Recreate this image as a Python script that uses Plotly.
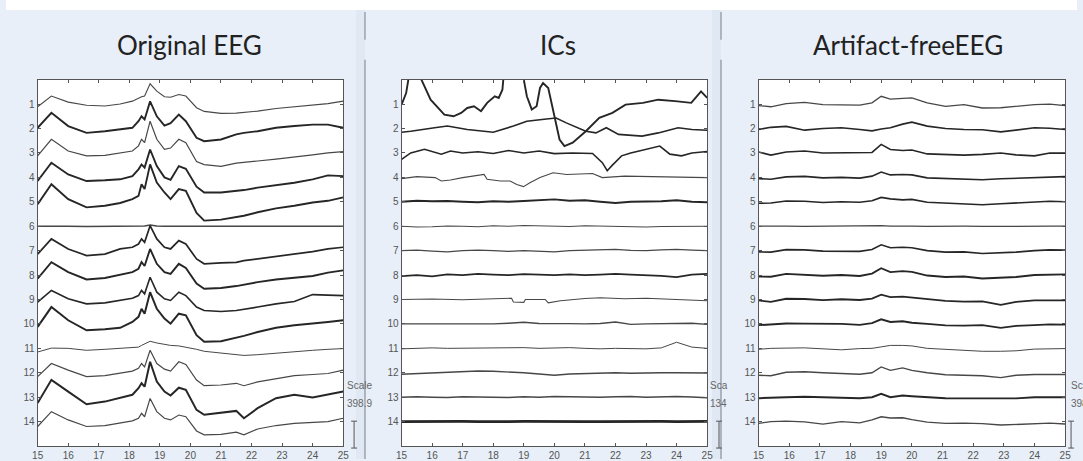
import plotly.graph_objects as go

W, H = 1083, 461

# ---------------------------------------------------------------- data
PANEL_TITLES = ["Original EEG", "ICs", "Artifact-freeEEG"]
CHANNELS = list(range(1, 15))
X_TICKS = list(range(15, 26))
SCALE_TEXT = [("Scale", "398.9"), ("Sca", "134"), ("Scale", "398.9")]

# Original EEG (deflection in channel-spacing units, up = positive)
T_EEG = [15.0, 15.45, 16.0, 16.6, 17.2, 17.7, 18.1, 18.3, 18.4, 18.5, 18.68, 18.9, 19.15, 19.35,
         19.62, 19.85, 20.2, 20.45, 21.0, 21.5, 21.75, 22.2, 22.8, 23.4, 24.0, 24.5, 25.0]
eeg_1 = [-0.11, 0.33, 0.08, -0.05, -0.08, 0.0, 0.12, 0.26, 0.30, 0.33, 0.83, 0.53, 0.30, 0.28,
         0.39, 0.33, -0.15, -0.30, -0.38, -0.37, -0.35, -0.29, -0.18, -0.10, -0.03, 0.02, 0.12]
eeg_2 = [0.03, 0.64, 0.10, -0.18, -0.11, -0.04, 0.03, 0.30, 0.50, 0.37, 1.11, 0.50, 0.12, 0.22,
         0.57, 0.30, -0.38, -0.52, -0.45, -0.24, -0.18, -0.11, 0.03, 0.10, 0.16, 0.16, 0.03]
eeg_3 = [-0.12, 0.56, 0.08, -0.12, -0.10, 0.0, 0.08, 0.29, 0.56, 0.42, 1.30, 0.56, 0.15, 0.20,
         0.56, 0.42, -0.35, -0.48, -0.55, -0.42, -0.38, -0.33, -0.25, -0.15, -0.08, 0.0, 0.05]
eeg_4 = [-0.15, 0.60, 0.12, -0.15, -0.12, -0.08, 0.05, 0.33, 0.53, 0.40, 1.14, 0.46, 0.0, -0.10,
         0.46, 0.35, -0.38, -0.62, -0.62, -0.56, -0.52, -0.42, -0.33, -0.22, -0.08, 0.08, 0.05]
eeg_5 = [-0.10, 0.72, 0.11, -0.23, -0.16, -0.05, 0.11, 0.24, 0.72, 0.52, 1.53, 0.79, 0.38, 0.11,
         0.52, 0.45, -0.46, -0.77, -0.73, -0.64, -0.57, -0.43, -0.27, -0.16, -0.03, 0.04, 0.18]
eeg_6 = [0.0, 0.01, 0.0, -0.01, 0.0, 0.0, 0.01, 0.0, 0.0, 0.01, 0.05, 0.01, 0.0, 0.0,
         0.01, 0.0, -0.01, 0.0, 0.0, 0.0, -0.01, 0.0, 0.0, 0.01, 0.0, 0.0, 0.0]
eeg_7 = [-0.14, 0.48, 0.07, -0.20, -0.14, 0.07, 0.14, 0.27, 0.48, 0.34, 1.02, 0.48, 0.14, 0.07,
         0.41, 0.27, -0.34, -0.54, -0.50, -0.48, -0.41, -0.34, -0.23, -0.14, -0.04, 0.07, 0.14]
eeg_8 = [-0.15, 0.53, 0.12, -0.18, -0.12, 0.0, 0.12, 0.26, 0.53, 0.37, 1.07, 0.46, 0.12, 0.05,
         0.46, 0.29, -0.35, -0.56, -0.53, -0.45, -0.39, -0.29, -0.18, -0.12, -0.04, 0.10, 0.19]
eeg_9 = [-0.11, 0.37, 0.03, -0.18, -0.14, -0.04, 0.05, 0.16, 0.37, 0.23, 0.91, 0.30, 0.03, -0.04,
         0.30, 0.16, -0.31, -0.45, -0.49, -0.45, -0.41, -0.31, -0.18, -0.08, 0.20, 0.19, 0.16]
eeg_10 = [-0.12, 0.69, 0.15, -0.26, -0.22, -0.16, 0.08, 0.29, 0.62, 0.42, 1.30, 0.62, 0.22, 0.01,
          0.42, 0.35, -0.46, -0.73, -0.71, -0.57, -0.49, -0.33, -0.16, -0.05, 0.01, 0.08, 0.15]
eeg_11 = [-0.15, 0.01, 0.0, -0.08, -0.04, 0.0, 0.01, 0.05, 0.12, 0.19, 0.29, 0.22, 0.15, 0.12,
          0.10, 0.05, -0.04, -0.12, -0.19, -0.26, -0.29, -0.26, -0.19, -0.12, -0.08, -0.04, -0.01]
eeg_12 = [-0.16, 0.38, 0.11, -0.16, -0.12, -0.03, 0.07, 0.18, 0.38, 0.24, 0.92, 0.38, 0.15, 0.07,
          0.45, 0.34, -0.30, -0.53, -0.50, -0.43, -0.53, -0.37, -0.23, -0.12, -0.07, -0.03, 0.11]
eeg_13 = [-0.24, 0.71, 0.23, -0.29, -0.18, -0.04, 0.10, 0.37, 0.57, 0.43, 1.45, 0.64, 0.23, 0.07,
          0.39, 0.30, -0.52, -0.72, -0.65, -0.56, -0.86, -0.45, -0.04, 0.10, -0.01, 0.10, 0.23]
eeg_14 = [-0.20, 0.41, 0.07, -0.20, -0.16, -0.07, 0.03, 0.14, 0.34, 0.20, 0.95, 0.41, 0.14, 0.07,
          0.27, 0.20, -0.38, -0.54, -0.52, -0.43, -0.54, -0.30, -0.16, -0.07, -0.03, 0.0, 0.14]

# Independent components
T_IC1 = [15.0, 15.15, 15.3, 15.45, 15.65, 15.95, 16.4, 16.7, 16.95, 17.15, 17.37, 17.6, 17.8,
         18.05, 18.18, 18.3, 18.4, 18.7, 19.0, 19.1, 19.26, 19.42, 19.53, 19.63, 19.8, 19.96,
         20.17, 20.33, 20.6, 21.03, 21.47, 21.9, 22.33, 22.9, 23.4, 23.95, 24.48, 24.8, 25.0]
ic_1 = [-0.02, 0.45, 1.6, 1.8, 1.0, 0.18, -0.43, -0.50, -0.36, -0.16, -0.09, -0.29, 0.05,
        0.32, 0.25, 0.59, 2.0, 2.5, 1.0, 0.32, -0.22, -0.09, 0.66, 0.86, 0.66, -0.22,
        -1.45, -1.72, -1.58, -1.11, -0.56, -0.36, -0.02, 0.05, 0.18, 0.12, 0.05, 0.52, 0.25]
T_IC2 = [15.0, 15.3, 16.08, 16.5, 17.15, 18.0, 18.66, 19.1, 19.74, 20.06, 20.39, 21.03, 21.36,
         21.7, 22.1, 22.87, 23.4, 24.05, 24.5, 25.0]
ic_2 = [-0.15, -0.11, 0.03, 0.10, -0.04, -0.15, 0.10, 0.30, 0.39, 0.43, 0.23, -0.11, -0.18,
        0.03, -0.24, -0.31, -0.18, 0.03, -0.04, -0.07]
T_IC3 = [15.0, 15.3, 15.75, 16.3, 16.6, 17.0, 17.5, 18.0, 18.5, 19.0, 19.5, 20.0, 20.6, 21.25,
         21.57, 21.73, 21.9, 22.2, 22.5, 23.2, 23.45, 23.78, 24.16, 24.5, 25.0]
ic_3 = [-0.26, 0.0, 0.15, -0.05, 0.08, 0.0, 0.05, -0.02, 0.10, 0.0, 0.08, -0.03, 0.0, -0.02,
        -0.40, -0.73, -0.50, -0.12, 0.0, 0.22, 0.28, -0.05, -0.12, 0.0, 0.06]
T_IC4 = [15.0, 15.5, 16.1, 16.3, 16.6, 17.0, 17.7, 17.8, 18.23, 18.55, 18.77, 18.99, 19.2,
         19.53, 19.96, 20.4, 21.25, 21.57, 22.3, 23.5, 24.5, 25.0]
ic_4 = [-0.05, 0.03, -0.01, -0.15, -0.11, -0.01, 0.12, -0.08, -0.15, -0.15, -0.29, -0.38, -0.22,
        -0.01, 0.19, 0.12, 0.16, -0.01, 0.05, 0.03, 0.02, -0.01]
T_IC9 = [15.0, 16.0, 17.0, 18.0, 18.6, 18.66, 19.0, 19.05, 19.7, 19.8, 20.2, 21.0, 21.5, 22.3,
         23.0, 24.0, 25.0]
ic_9 = [0.0, 0.02, -0.01, 0.02, 0.05, -0.10, -0.12, 0.0, 0.0, -0.14, -0.05, 0.04, 0.07, 0.03,
        0.05, 0.0, -0.05]
T_IC = [15.0, 15.5, 16.0, 16.5, 17.0, 17.5, 18.0, 18.5, 19.0, 19.5, 20.0, 20.5, 21.0, 21.5,
        22.0, 22.5, 23.0, 23.5, 24.0, 24.5, 25.0]
ic_5 = [0.0, 0.04, 0.02, 0.03, 0.0, -0.02, 0.02, 0.0, 0.03, 0.05, 0.10, 0.04, 0.06, 0.0,
        -0.05, 0.0, 0.0, 0.02, 0.06, 0.0, -0.02]
ic_6 = [0.0, -0.03, -0.02, 0.01, 0.0, -0.02, 0.02, 0.0, 0.03, 0.01, 0.0, -0.01, 0.02, 0.0,
        0.01, -0.02, -0.03, -0.01, 0.0, 0.01, 0.0]
ic_7 = [0.0, 0.02, -0.02, -0.05, 0.0, 0.02, 0.0, -0.03, 0.0, -0.04, -0.05, 0.0, 0.02, 0.03,
        0.05, 0.01, 0.0, 0.03, 0.05, 0.02, 0.0]
ic_8 = [-0.04, 0.0, -0.05, 0.03, 0.0, 0.05, 0.02, 0.0, 0.04, 0.02, 0.0, 0.03, 0.0, 0.02,
        0.05, 0.02, 0.0, -0.03, -0.08, 0.02, 0.05]
ic_10 = [0.0, 0.0, 0.02, 0.01, 0.0, -0.01, 0.0, 0.03, 0.07, 0.02, 0.0, 0.01, 0.0, 0.02,
         0.08, -0.02, 0.0, 0.0, 0.02, 0.03, -0.02]
ic_11 = [-0.02, 0.0, 0.02, 0.0, 0.01, 0.0, 0.0, 0.02, 0.03, 0.0, 0.02, 0.03, 0.0, -0.02,
         0.0, 0.0, -0.02, 0.02, 0.25, 0.05, 0.0]
ic_12 = [-0.06, -0.03, 0.0, 0.02, 0.05, 0.07, 0.06, 0.04, 0.0, -0.05, -0.10, -0.05, -0.03, 0.0,
         0.0, -0.02, 0.0, 0.0, 0.0, 0.0, -0.01]
ic_13 = [0.0, 0.02, 0.0, -0.01, 0.02, 0.01, 0.0, -0.01, 0.02, 0.0, 0.03, 0.01, 0.02, 0.0,
         0.02, 0.03, 0.0, 0.02, 0.03, 0.01, -0.02]
ic_14 = [0.0, 0.01, -0.01, 0.0, 0.01, 0.0, -0.01, 0.0, 0.01, 0.0, -0.01, 0.01, 0.0, 0.0,
         0.01, -0.01, 0.0, 0.01, 0.0, 0.0, 0.01]

# Artifact-free EEG
T_AF = [15.0, 15.4, 15.9, 16.5, 17.1, 17.7, 18.3, 18.7, 19.0, 19.3, 19.7, 20.0, 20.5, 21.1,
        21.7, 22.3, 22.9, 23.4, 24.0, 24.5, 25.0]
af_1 = [-0.06, -0.11, 0.02, 0.07, -0.02, -0.04, -0.04, 0.05, 0.32, 0.20, 0.22, 0.25, 0.05, -0.09,
        -0.02, -0.16, -0.15, -0.09, -0.02, 0.0, -0.06]
af_2 = [-0.04, 0.05, 0.09, -0.07, 0.0, 0.03, -0.04, -0.10, -0.02, 0.03, 0.18, 0.26, 0.10, 0.0,
        -0.04, -0.05, -0.14, -0.07, 0.03, 0.01, -0.04]
af_3 = [0.04, -0.09, 0.04, 0.08, 0.0, 0.01, 0.0, 0.02, 0.35, 0.14, 0.10, 0.12, -0.04, -0.07,
        -0.09, -0.06, 0.0, -0.08, -0.12, 0.0, -0.01]
af_4 = [-0.05, -0.08, 0.02, 0.04, -0.02, 0.0, -0.03, 0.05, 0.22, 0.10, 0.12, 0.10, -0.02, -0.05,
        -0.08, -0.10, -0.06, -0.04, 0.0, 0.02, 0.03]
af_5 = [-0.06, -0.05, 0.03, 0.02, -0.03, 0.0, -0.02, 0.04, 0.18, 0.12, 0.08, 0.10, -0.02, -0.06,
        -0.10, -0.12, -0.08, -0.05, 0.0, 0.02, 0.0]
af_6 = [0.0, 0.01, 0.0, -0.01, 0.0, 0.01, 0.0, 0.0, 0.02, 0.0, 0.01, 0.0, -0.01, 0.0,
        0.0, -0.01, 0.0, 0.0, 0.01, 0.0, 0.0]
af_7 = [-0.05, -0.06, 0.04, 0.03, -0.02, -0.01, -0.03, 0.05, 0.24, 0.12, 0.14, 0.12, 0.0, -0.06,
        -0.05, -0.12, -0.10, -0.06, 0.0, 0.03, 0.02]
af_8 = [-0.06, -0.07, 0.05, 0.02, -0.03, 0.0, -0.04, 0.06, 0.28, 0.12, 0.16, 0.13, -0.02, -0.08,
        -0.06, -0.14, -0.12, -0.08, 0.0, 0.02, 0.03]
af_9 = [-0.04, -0.10, 0.03, 0.02, -0.03, 0.01, -0.02, 0.04, 0.20, 0.10, 0.12, 0.08, 0.0, -0.06,
        -0.09, -0.08, -0.22, -0.10, -0.04, -0.03, -0.04]
af_10 = [-0.05, -0.03, 0.02, 0.01, 0.02, 0.0, -0.04, 0.03, 0.19, 0.08, 0.11, 0.05, 0.0, -0.06,
         -0.07, -0.05, -0.16, -0.08, -0.05, -0.02, -0.03]
af_11 = [-0.04, 0.0, 0.01, 0.02, -0.02, -0.06, -0.01, 0.0, 0.06, 0.12, 0.12, 0.10, 0.0, -0.05,
         -0.08, -0.12, -0.12, -0.10, -0.03, -0.01, -0.01]
af_12 = [-0.10, -0.12, 0.02, 0.04, 0.0, -0.03, -0.06, 0.0, 0.24, 0.10, 0.20, 0.10, 0.0, -0.08,
         -0.10, -0.12, -0.20, -0.10, -0.07, -0.06, -0.07]
af_13 = [-0.04, -0.01, 0.0, 0.02, 0.01, 0.0, -0.04, 0.0, 0.14, 0.0, 0.07, 0.04, -0.01, -0.04,
         -0.05, -0.06, -0.07, -0.05, 0.0, -0.01, 0.0]
af_14 = [-0.07, 0.0, 0.02, -0.01, -0.10, 0.0, -0.05, 0.07, 0.20, 0.15, 0.16, 0.08, -0.02, -0.07,
         -0.06, -0.08, -0.14, -0.11, -0.10, -0.06, -0.10]

panels = [
    [(T_EEG, s) for s in [eeg_1, eeg_2, eeg_3, eeg_4, eeg_5, eeg_6, eeg_7,
                          eeg_8, eeg_9, eeg_10, eeg_11, eeg_12, eeg_13, eeg_14]],
    [(T_IC1, ic_1), (T_IC2, ic_2), (T_IC3, ic_3), (T_IC4, ic_4), (T_IC, ic_5), (T_IC, ic_6),
     (T_IC, ic_7), (T_IC, ic_8), (T_IC9, ic_9), (T_IC, ic_10), (T_IC, ic_11), (T_IC, ic_12),
     (T_IC, ic_13), (T_IC, ic_14)],
    [(T_AF, s) for s in [af_1, af_2, af_3, af_4, af_5, af_6, af_7,
                         af_8, af_9, af_10, af_11, af_12, af_13, af_14]],
]

# ---------------------------------------------------------------- styles
line_widths = [
    [1.1, 1.9, 1.2, 1.9, 1.9, 1.4, 1.7, 1.9, 1.6, 2.0, 1.0, 1.2, 2.0, 1.2],
    [1.9, 1.6, 1.6, 1.1, 1.9, 1.1, 1.4, 1.7, 1.1, 1.4, 1.0, 1.4, 1.4, 2.6],
    [1.3, 1.7, 1.6, 1.6, 1.6, 1.3, 1.6, 1.9, 1.8, 1.9, 1.0, 1.4, 1.9, 1.4],
]
# plot-area edges in pixels: (left, right)
plot_px = [(32, 341), (400, 709), (761, 1071)]
PLOT_TOP, PLOT_BOTTOM = 80, 448
title_px = [186, 558, 912]
scale_px = [343, 710, 1075]
bar_px = [352, 721, 1077]

BG = "#e8eff8"
TICK_FONT = dict(family="Liberation Sans, Arial, sans-serif", size=10, color="#555555")


def px_x(p):
    return p / W


def px_y(p):
    return 1 - p / H


fig = go.Figure()

for i, traces in enumerate(panels):
    suffix = "" if i == 0 else str(i + 1)
    for ch, ((t, v), lw) in enumerate(zip(traces, line_widths[i]), start=1):
        fig.add_trace(go.Scatter(
            x=t, y=[ch - val for val in v], mode="lines",
            line=dict(color="#262626" if lw >= 1.5 else "#474747", width=lw),
            xaxis="x" + suffix, yaxis="y" + suffix,
            showlegend=False, hoverinfo="skip",
        ))
    left, right = plot_px[i]
    fig.update_layout({
        "xaxis" + suffix: dict(
            domain=[px_x(left), px_x(right)], range=[15, 25], anchor="y" + suffix,
            tickvals=X_TICKS, ticktext=[str(v) for v in X_TICKS],
            ticks="inside", ticklen=3, tickcolor="#555555",
            showline=True, linecolor="#555555", linewidth=1, mirror="ticks",
            showgrid=False, zeroline=False, tickfont=TICK_FONT, fixedrange=True,
        ),
        "yaxis" + suffix: dict(
            domain=[px_y(PLOT_BOTTOM), px_y(PLOT_TOP)], range=[15, 0], anchor="x" + suffix,
            tickvals=CHANNELS, ticktext=[str(c) for c in CHANNELS],
            ticks="inside", ticklen=3, tickcolor="#555555",
            showline=True, linecolor="#555555", linewidth=1, mirror="ticks",
            showgrid=False, zeroline=False, tickfont=TICK_FONT, fixedrange=True,
        ),
    })

shapes = [
    # white strip along the top edge
    dict(type="rect", xref="paper", yref="paper", x0=0, x1=1, y0=px_y(10), y1=1,
         fillcolor="white", line=dict(width=0), layer="below"),
]
# panel separators
for sx in (363, 723):
    shapes.append(dict(type="rect", xref="paper", yref="paper",
                       x0=px_x(sx - 9), x1=px_x(sx), y0=0, y1=px_y(10),
                       fillcolor="#dfe8f3", line=dict(width=0), layer="below"))
    shapes.append(dict(type="line", xref="paper", yref="paper",
                       x0=px_x(sx), x1=px_x(sx), y0=0, y1=px_y(60),
                       line=dict(color="#9aa3ad", width=1.5)))
    shapes.append(dict(type="line", xref="paper", yref="paper",
                       x0=px_x(sx), x1=px_x(sx), y0=px_y(40), y1=px_y(12),
                       line=dict(color="#9aa3ad", width=1.5)))
# scale bars
for bx in bar_px:
    top, bot = 423, 450
    shapes.append(dict(type="line", xref="paper", yref="paper",
                       x0=px_x(bx), x1=px_x(bx), y0=px_y(bot), y1=px_y(top),
                       line=dict(color="#555555", width=1)))
    for yy in (top, bot):
        shapes.append(dict(type="line", xref="paper", yref="paper",
                           x0=px_x(bx - 3), x1=px_x(bx + 3), y0=px_y(yy), y1=px_y(yy),
                           line=dict(color="#555555", width=1)))

annotations = []
for i, title in enumerate(PANEL_TITLES):
    annotations.append(dict(
        text=title, x=px_x(title_px[i]), y=px_y(45), xref="paper", yref="paper",
        xanchor="center", yanchor="middle", showarrow=False,
        font=dict(family="Lato, Open Sans, sans-serif", size=26, color="#222222"),
    ))
    label, value = SCALE_TEXT[i]
    for txt, yy in ((label, 387), (value, 405)):
        annotations.append(dict(
            text=txt, x=px_x(scale_px[i]), y=px_y(yy), xref="paper", yref="paper",
            xanchor="left", yanchor="middle", showarrow=False,
            font=dict(family="Liberation Sans, Arial, sans-serif", size=10, color="#666666"),
        ))

fig.update_layout(
    width=W, height=H, margin=dict(l=0, r=0, t=0, b=0),
    paper_bgcolor=BG, plot_bgcolor="white",
    shapes=shapes, annotations=annotations, showlegend=False,
)

fig.write_html("out.html")
